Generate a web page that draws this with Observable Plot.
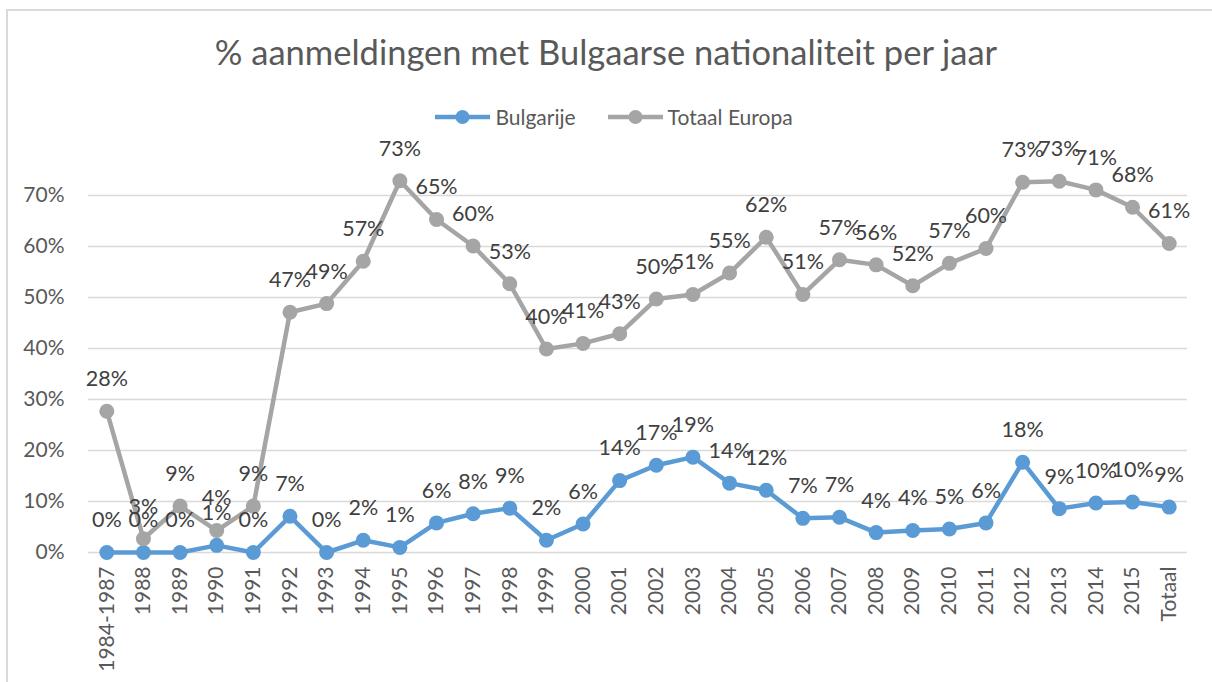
<!DOCTYPE html>
<html>
<head>
<meta charset="utf-8">
<script src="https://cdn.jsdelivr.net/npm/d3@7"></script>
<script src="https://cdn.jsdelivr.net/npm/@observablehq/plot@0.6"></script>
<style>
  html, body { margin: 0; padding: 0; background: #fff; }
  #wrap { position: relative; width: 1212px; height: 682px; font-family: Lato, "Open Sans", sans-serif; overflow: hidden; }
  #frame { position: absolute; left: 6px; top: 9px; width: 1220px; height: 700px; border-left: 2px solid #d9d9d9; border-top: 2px solid #d9d9d9; }
  #title { position: absolute; left: 0; top: 31px; width: 1212px; text-align: center; font-size: 34.5px; color: #595959; }
  #legend { position: absolute; left: 8px; top: 104px; width: 1212px; display: flex; justify-content: center; gap: 32px; font-size: 21px; color: #595959; }
  #legend .item { display: flex; align-items: center; gap: 5px; }
  #chart { position: absolute; left: 0; top: 140px; }
</style>
</head>
<body>
<div id="wrap">
  <div id="frame"></div>
  <div id="title">% aanmeldingen met Bulgaarse nationaliteit per jaar</div>
  <div id="legend"></div>
  <div id="chart"></div>
</div>
<script>
const categories = ["1984-1987","1988","1989","1990","1991","1992","1993","1994","1995","1996","1997","1998","1999","2000","2001","2002","2003","2004","2005","2006","2007","2008","2009","2010","2011","2012","2013","2014","2015","Totaal"];
const bulgarije = [0, 0, 0, 0.014, 0, 0.071, 0, 0.024, 0.010, 0.058, 0.076, 0.087, 0.024, 0.056, 0.141, 0.171, 0.187, 0.136, 0.122, 0.067, 0.069, 0.039, 0.043, 0.046, 0.058, 0.177, 0.086, 0.097, 0.099, 0.089];
const totaalEuropa = [0.277, 0.027, 0.091, 0.043, 0.091, 0.471, 0.488, 0.571, 0.729, 0.653, 0.601, 0.527, 0.399, 0.410, 0.429, 0.497, 0.506, 0.548, 0.618, 0.506, 0.574, 0.564, 0.523, 0.567, 0.596, 0.726, 0.728, 0.711, 0.677, 0.606];
const seriesNames = ["Bulgarije", "Totaal Europa"];
const seriesColors = ["#5B9BD5", "#A5A5A5"];
const yTicks = [0, 0.1, 0.2, 0.3, 0.4, 0.5, 0.6, 0.7];

const rows = [];
categories.forEach((c, i) => {
  rows.push({cat: c, series: seriesNames[0], value: bulgarije[i]});
  rows.push({cat: c, series: seriesNames[1], value: totaalEuropa[i]});
});

const pct = d3.format(".0%");

const chart = Plot.plot({
  width: 1212,
  height: 540,
  marginTop: 55,
  marginBottom: 128,
  marginLeft: 88,
  marginRight: 25,
  style: { fontFamily: "Lato, 'Open Sans', sans-serif", fontSize: "21px", color: "#595959", background: "transparent", overflow: "visible" },
  x: { type: "point", domain: categories, padding: 0.5, round: false, label: null },
  y: { domain: [0, 0.7], label: null },
  color: { domain: seriesNames, range: seriesColors },
  marks: [
    Plot.ruleY(yTicks, { stroke: "#d9d9d9", strokeWidth: 1.5 }),
    Plot.axisY(yTicks, { tickFormat: pct, tickSize: 0, tickPadding: 24, fontSize: 21, fill: "#595959" }),
    Plot.axisX({ tickRotate: -90, tickSize: 0, tickPadding: 14, fontSize: 21, fill: "#595959", textAnchor: "end" }),
    Plot.line(rows, { x: "cat", y: "value", z: "series", stroke: "series", strokeWidth: 4.5, curve: "linear" }),
    Plot.dot(rows, { x: "cat", y: "value", fill: "series", r: 7.5 }),
    Plot.text(rows, { x: "cat", y: "value", text: d => pct(d.value), dy: -32, fill: "#404040", fontSize: 21.5 })
  ]
});
document.getElementById("chart").appendChild(chart);

const legend = document.getElementById("legend");
seriesNames.forEach((name, i) => {
  const item = document.createElement("div");
  item.className = "item";
  item.innerHTML = `<svg width="55" height="16"><line x1="0" x2="55" y1="8" y2="8" stroke="${seriesColors[i]}" stroke-width="4.5"/><circle cx="27.5" cy="8" r="7" fill="${seriesColors[i]}"/></svg><span>${name}</span>`;
  legend.appendChild(item);
});
</script>
</body>
</html>
